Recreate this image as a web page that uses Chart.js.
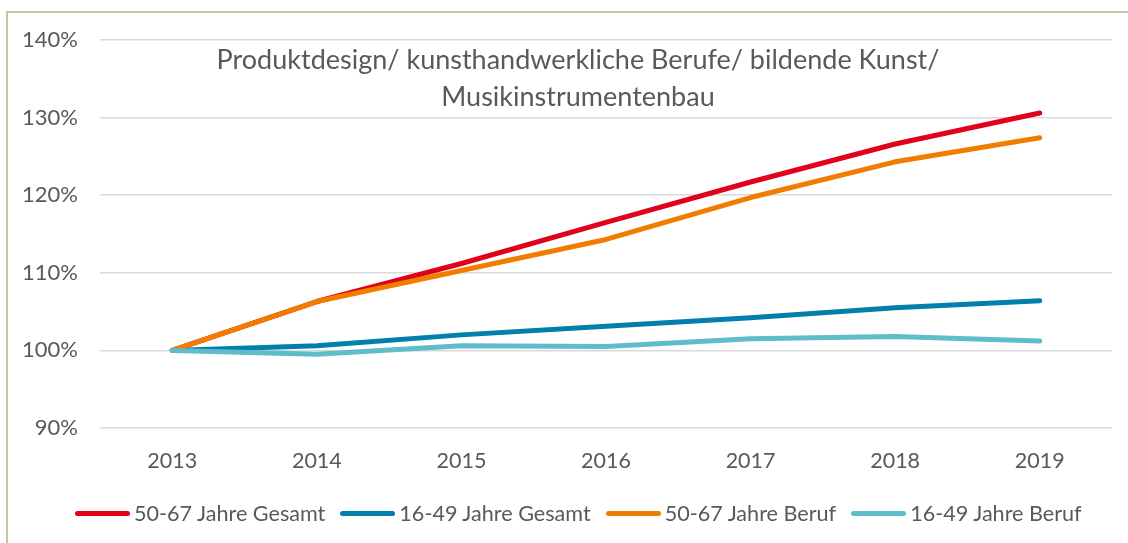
<!DOCTYPE html>
<html>
<head>
<meta charset="utf-8">
<script src="https://cdn.jsdelivr.net/npm/chart.js@4"></script>
<style>
    html, body { margin: 0; padding: 0; background: #fff; }
    #wrap { position: relative; width: 1128px; height: 543px; overflow: hidden; font-family: Lato, sans-serif; }
    #frame { position: absolute; left: 6px; top: 11px; width: 1200px; height: 600px;
             border-left: 2px solid #cbc4a4; border-top: 2px solid #cbc4a4; }
    #chartBox { position: absolute; left: 0; top: 0; width: 1128px; height: 543px; }
    #legend { position: absolute; left: 75px; top: 499px; height: 28px; display: flex; align-items: center;
              font-size: 21.6px; color: #595959; white-space: nowrap; }
    .item { display: flex; align-items: center; margin-right: 15px; }
    .swatch { width: 55px; height: 5px; border-radius: 3px; margin-right: 4px; }
</style>
</head>
<body>
<div id="wrap">
    <div id="frame"></div>
    <div id="chartBox"><canvas id="lineChart"></canvas></div>
    <div id="legend"></div>
</div>
<script>
const years = ['2013', '2014', '2015', '2016', '2017', '2018', '2019'];
const gesamt5067 = [100, 106.3, 111.2, 116.5, 121.7, 126.6, 130.6];
const gesamt1649 = [100, 100.6, 102.0, 103.1, 104.2, 105.5, 106.4];
const beruf5067 = [100, 106.3, 110.3, 114.3, 119.7, 124.3, 127.4];
const beruf1649 = [100, 99.5, 100.6, 100.5, 101.5, 101.8, 101.2];
const titleLines = ['Produktdesign/ kunsthandwerkliche Berufe/ bildende Kunst/', 'Musikinstrumentenbau'];

const FONT = 'Lato';
const GREY = '#595959';

// title sits inside the plot area, so draw it ourselves
const innerTitle = {
    id: 'innerTitle',
    afterDraw(chart) {
        const ctx = chart.ctx;
        ctx.save();
        ctx.font = '27px ' + FONT;
        ctx.fillStyle = GREY;
        ctx.textAlign = 'center';
        ctx.textBaseline = 'middle';
        ctx.fillText(titleLines[0], 578, 60);
        ctx.fillText(titleLines[1], 578, 97);
        ctx.restore();
    }
};

function ds(label, data, color, order) {
    return {
        label: label,
        data: data,
        borderColor: color,
        backgroundColor: color,
        borderWidth: 5,
        pointRadius: 0,
        tension: 0,
        borderCapStyle: 'round',
        borderJoinStyle: 'round',
        order: order
    };
}

const ctx = document.getElementById('lineChart').getContext('2d');
const chart = new Chart(ctx, {
    type: 'line',
    data: {
        labels: years,
        datasets: [
            ds('50-67 Jahre Gesamt', gesamt5067, '#e2001a', 4),
            ds('16-49 Jahre Gesamt', gesamt1649, '#0080aa', 3),
            ds('50-67 Jahre Beruf', beruf5067, '#f07d00', 2),
            ds('16-49 Jahre Beruf', beruf1649, '#5fbccb', 1)
        ]
    },
    options: {
        responsive: true,
        maintainAspectRatio: false,
        animation: false,
        layout: { padding: { left: 0, right: 16, top: 40, bottom: 49 } },
        scales: {
            x: {
                offset: true,
                grid: { display: false, drawTicks: false },
                border: { display: false },
                ticks: { color: GREY, font: { family: FONT, size: 21.5 }, padding: 20, maxRotation: 0 },
                afterFit: (scale) => { scale.height = 66; }
            },
            y: {
                min: 90,
                max: 140,
                grid: { color: '#d9d9d9', lineWidth: 1.5, drawTicks: false },
                border: { display: false },
                ticks: {
                    stepSize: 10,
                    color: GREY,
                    font: { family: FONT, size: 22 },
                    padding: 22,
                    callback: (v) => v + '%'
                },
                afterFit: (scale) => { scale.width = 100; }
            }
        },
        plugins: {
            legend: { display: false },
            tooltip: { enabled: false }
        }
    },
    plugins: [innerTitle]
});

// legend in the page, in dataset order
document.getElementById('legend').innerHTML = chart.data.datasets.map(d => `
    <div class="item"><span class="swatch" style="background:${d.borderColor}"></span><span>${d.label}</span></div>
`).join('');
</script>
</body>
</html>
